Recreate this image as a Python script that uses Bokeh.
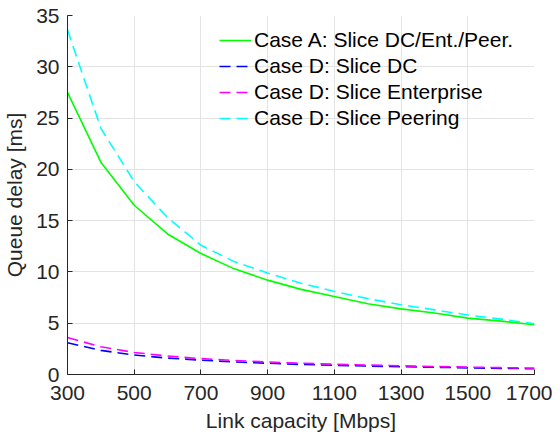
from bokeh.plotting import figure
from bokeh.models import Range1d, FixedTicker, Legend, LegendItem
from bokeh.embed import file_html
from bokeh.resources import INLINE

capacity = [300, 400, 500, 600, 700, 800, 900, 1000, 1100, 1200, 1300, 1400, 1500, 1600, 1700]
case_a = [27.5, 20.7, 16.5, 13.7, 11.8, 10.3, 9.2, 8.3, 7.6, 6.9, 6.4, 6.0, 5.5, 5.2, 4.85]
case_d_dc = [3.1, 2.35, 1.9, 1.6, 1.4, 1.22, 1.1, 0.98, 0.9, 0.82, 0.76, 0.7, 0.65, 0.6, 0.56]
case_d_ent = [3.6, 2.7, 2.15, 1.8, 1.55, 1.37, 1.22, 1.1, 1.0, 0.92, 0.85, 0.78, 0.72, 0.67, 0.62]
case_d_peer = [33.6, 24.0, 18.8, 15.3, 12.6, 11.0, 9.9, 8.9, 8.1, 7.4, 6.8, 6.3, 5.8, 5.4, 4.95]

x_ticks = [300, 500, 700, 900, 1100, 1300, 1500, 1700]
y_ticks = [0, 5, 10, 15, 20, 25, 30, 35]

FONT = "Liberation Sans"
TXT = "#262626"

p = figure(width=552, height=434, output_backend="svg", toolbar_location=None,
           x_range=Range1d(300, 1700), y_range=Range1d(0, 35),
           min_border_left=67, min_border_right=18, min_border_top=15, min_border_bottom=60)
p.outline_line_color = None
p.background_fill_color = "white"

for ax, ticks in ((p.xaxis[0], x_ticks), (p.yaxis[0], y_ticks)):
    ax.ticker = FixedTicker(ticks=ticks)
    ax.major_tick_in = 5
    ax.major_tick_out = 0
    ax.minor_tick_line_color = None
    ax.axis_line_color = "#262626"
    ax.major_tick_line_color = "#262626"
    ax.major_label_text_font = FONT
    ax.major_label_text_font_size = "21px"
    ax.major_label_text_color = TXT
    ax.axis_label_text_font = FONT
    ax.axis_label_text_font_size = "21px"
    ax.axis_label_text_color = TXT
    ax.axis_label_text_font_style = "normal"

p.xaxis.axis_label = "Link capacity [Mbps]"
p.yaxis.axis_label = "Queue delay [ms]"
p.xaxis.major_label_standoff = 11
p.xaxis.axis_label_standoff = 6
p.yaxis.major_label_standoff = 8
p.yaxis.axis_label_standoff = 7

p.xgrid.ticker = FixedTicker(ticks=x_ticks)
p.ygrid.ticker = FixedTicker(ticks=y_ticks)
p.grid.grid_line_color = "#e3e3e3"
p.grid.grid_line_width = 1

r_a = p.line(capacity, case_a, line_color="#00ff00", line_width=1.6)
r_dc = p.line(capacity, case_d_dc, line_color="#0000ff", line_width=1.6, line_dash="11 6")
r_ent = p.line(capacity, case_d_ent, line_color="#ff00ff", line_width=1.6, line_dash="11 6")
r_peer = p.line(capacity, case_d_peer, line_color="#00ffff", line_width=1.6, line_dash="11 6")

legend = Legend(items=[
    LegendItem(label="Case A: Slice DC/Ent./Peer.", renderers=[r_a]),
    LegendItem(label="Case D: Slice DC", renderers=[r_dc]),
    LegendItem(label="Case D: Slice Enterprise", renderers=[r_ent]),
    LegendItem(label="Case D: Slice Peering", renderers=[r_peer]),
], location=(152, 244))
legend.background_fill_alpha = 0
legend.border_line_color = None
legend.padding = 0
legend.margin = 0
legend.spacing = 2
legend.glyph_width = 32
legend.glyph_height = 20
legend.label_height = 20
legend.label_standoff = 3
legend.label_text_font = FONT
legend.label_text_font_size = "21px"
legend.label_text_color = "black"
p.add_layout(legend, "center")

open("out.html", "w").write(file_html(p, INLINE))
